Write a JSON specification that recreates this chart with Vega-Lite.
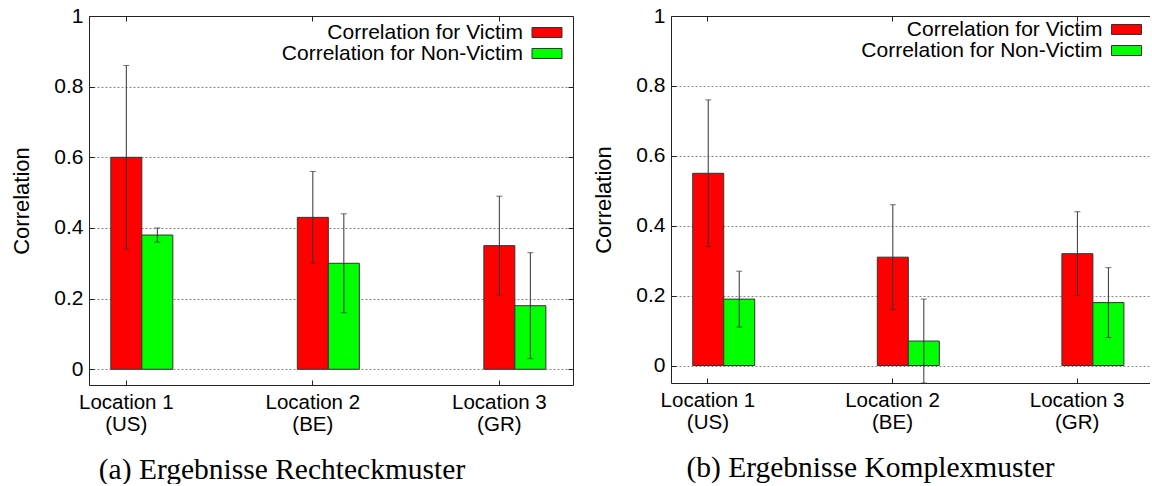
{
  "$schema": "https://vega.github.io/schema/vega-lite/v6.json",
  "background": "white",
  "padding": {"left": 10, "top": 5, "right": 0, "bottom": 0},
  "spacing": 18,
  "resolve": {"scale": {"color": "independent"}, "legend": {"color": "independent"}},
  "config": {
    "font": "Liberation Sans",
    "view": {"stroke": null},
    "axis": {
      "labelFont": "Liberation Sans", "labelFontSize": 20.5, "labelColor": "black",
      "titleFont": "Liberation Sans", "titleFontSize": 22, "titleFontWeight": "normal", "titleColor": "black",
      "domainColor": "#222", "tickColor": "#222", "domainWidth": 1, "tickWidth": 1
    },
    "legend": {
      "orient": "none", "title": null,
      "symbolType": "M-1.58,-0.526H1.58V0.526H-1.58Z", "symbolSize": 361,
      "symbolStrokeColor": "#333", "symbolStrokeWidth": 1, "symbolOpacity": 1,
      "labelFont": "Liberation Sans", "labelFontSize": 21, "labelColor": "black",
      "labelAlign": "right", "labelOffset": -34.5, "labelLimit": 500,
      "rowPadding": -1, "padding": 0
    }
  },
  "datasets": {
    "a": [
      {"loc": "Location 1\n(US)", "series": "Correlation for Victim", "value": 0.60, "low": 0.34, "high": 0.86},
      {"loc": "Location 1\n(US)", "series": "Correlation for Non-Victim", "value": 0.38, "low": 0.36, "high": 0.40},
      {"loc": "Location 2\n(BE)", "series": "Correlation for Victim", "value": 0.43, "low": 0.30, "high": 0.56},
      {"loc": "Location 2\n(BE)", "series": "Correlation for Non-Victim", "value": 0.30, "low": 0.16, "high": 0.44},
      {"loc": "Location 3\n(GR)", "series": "Correlation for Victim", "value": 0.35, "low": 0.21, "high": 0.49},
      {"loc": "Location 3\n(GR)", "series": "Correlation for Non-Victim", "value": 0.18, "low": 0.03, "high": 0.33}
    ],
    "b": [
      {"loc": "Location 1\n(US)", "series": "Correlation for Victim", "value": 0.55, "low": 0.34, "high": 0.76},
      {"loc": "Location 1\n(US)", "series": "Correlation for Non-Victim", "value": 0.19, "low": 0.11, "high": 0.27},
      {"loc": "Location 2\n(BE)", "series": "Correlation for Victim", "value": 0.31, "low": 0.16, "high": 0.46},
      {"loc": "Location 2\n(BE)", "series": "Correlation for Non-Victim", "value": 0.07, "low": -0.05, "high": 0.19},
      {"loc": "Location 3\n(GR)", "series": "Correlation for Victim", "value": 0.32, "low": 0.20, "high": 0.44},
      {"loc": "Location 3\n(GR)", "series": "Correlation for Non-Victim", "value": 0.18, "low": 0.08, "high": 0.28}
    ]
  },
  "hconcat": [
    {
      "width": 484, "height": 369,
      "data": {"name": "a"},
      "title": {"text": "(a) Ergebnisse Rechteckmuster", "orient": "bottom", "anchor": "middle", "frame": "group", "dx": -49, "offset": 21, "font": "Liberation Serif", "fontSize": 29.5, "fontWeight": "normal", "color": "black"},
      "layer": [
        {
          "mark": {"type": "bar", "stroke": "#333", "strokeWidth": 1},
          "encoding": {
            "x": {"field": "loc", "type": "nominal", "sort": null,
              "scale": {"paddingInner": 0.7, "paddingOuter": 0.1475, "align": 0.1695},
              "axis": {"orient": "bottom", "title": null, "labelAngle": 0, "labelExpr": "split(datum.label, '\\n')", "labelLineHeight": 22, "tickSize": -5, "labelPadding": 12}},
            "xOffset": {"field": "series", "type": "nominal", "sort": null,
              "scale": {"domain": ["Correlation for Victim", "Correlation for Non-Victim"], "range": [12.5, 74.5], "paddingInner": 0, "paddingOuter": 0}},
            "y": {"field": "value", "type": "quantitative", "stack": null,
              "scale": {"domain": [-0.0445, 1], "nice": false, "zero": false},
              "axis": {"orient": "left", "values": [0, 0.2, 0.4, 0.6, 0.8, 1], "format": ".1~f", "grid": true, "gridDash": [2, 2], "gridColor": "#888", "tickSize": -5, "labelFontSize": 21, "labelPadding": 11, "title": "Correlation", "titlePadding": 20}},
            "color": {"field": "series", "type": "nominal",
              "scale": {"domain": ["Correlation for Victim", "Correlation for Non-Victim"], "range": ["#ff0000", "#00ff00"]},
              "legend": {"legendX": 447.5, "legendY": 6}}
          }
        },
        {
          "mark": {"type": "rule", "color": "#333", "strokeWidth": 1},
          "encoding": {
            "x": {"field": "loc", "type": "nominal", "sort": null,
              "axis": {"orient": "top", "title": null, "labels": false, "tickSize": -5}},
            "xOffset": {"field": "series", "type": "nominal", "sort": null},
            "y": {"field": "low", "type": "quantitative",
              "axis": {"orient": "right", "title": null, "labels": false, "grid": false, "values": [0, 0.2, 0.4, 0.6, 0.8, 1], "tickSize": -5}},
            "y2": {"field": "high"}
          }
        },
        {
          "mark": {"type": "tick", "orient": "horizontal", "size": 6, "thickness": 1, "color": "#333"},
          "encoding": {
            "x": {"field": "loc", "type": "nominal", "sort": null, "axis": null},
            "xOffset": {"field": "series", "type": "nominal", "sort": null},
            "y": {"field": "low", "type": "quantitative", "axis": null}
          }
        },
        {
          "mark": {"type": "tick", "orient": "horizontal", "size": 6, "thickness": 1, "color": "#333"},
          "encoding": {
            "x": {"field": "loc", "type": "nominal", "sort": null, "axis": null},
            "xOffset": {"field": "series", "type": "nominal", "sort": null},
            "y": {"field": "high", "type": "quantitative", "axis": null}
          }
        }
      ],
      "resolve": {"axis": {"x": "independent", "y": "independent"}}
    },
    {
      "width": 479, "height": 367,
      "data": {"name": "b"},
      "title": {"text": "(b) Ergebnisse Komplexmuster", "orient": "bottom", "anchor": "middle", "frame": "group", "dx": -40, "offset": 21, "font": "Liberation Serif", "fontSize": 29.5, "fontWeight": "normal", "color": "black"},
      "layer": [
        {
          "mark": {"type": "bar", "stroke": "#333", "strokeWidth": 1},
          "encoding": {
            "x": {"field": "loc", "type": "nominal", "sort": null,
              "scale": {"paddingInner": 0.7, "paddingOuter": 0.1475, "align": 0.1695},
              "axis": {"orient": "bottom", "title": null, "labelAngle": 0, "labelExpr": "split(datum.label, '\\n')", "labelLineHeight": 22, "tickSize": -5, "labelPadding": 12}},
            "xOffset": {"field": "series", "type": "nominal", "sort": null,
              "scale": {"domain": ["Correlation for Victim", "Correlation for Non-Victim"], "range": [12.5, 74.5], "paddingInner": 0, "paddingOuter": 0}},
            "y": {"field": "value", "type": "quantitative", "stack": null,
              "scale": {"domain": [-0.05, 1], "nice": false, "zero": false},
              "axis": {"orient": "left", "values": [0, 0.2, 0.4, 0.6, 0.8, 1], "format": ".1~f", "grid": true, "gridDash": [2, 2], "gridColor": "#888", "tickSize": -5, "labelFontSize": 21, "labelPadding": 11, "title": "Correlation", "titlePadding": 20}},
            "color": {"field": "series", "type": "nominal",
              "scale": {"domain": ["Correlation for Victim", "Correlation for Non-Victim"], "range": ["#ff0000", "#00ff00"]},
              "legend": {"legendX": 445, "legendY": 3}}
          }
        },
        {
          "mark": {"type": "rule", "color": "#333", "strokeWidth": 1},
          "encoding": {
            "x": {"field": "loc", "type": "nominal", "sort": null,
              "axis": {"orient": "top", "title": null, "labels": false, "tickSize": -5}},
            "xOffset": {"field": "series", "type": "nominal", "sort": null},
            "y": {"field": "low", "type": "quantitative", "axis": null},
            "y2": {"field": "high"}
          }
        },
        {
          "mark": {"type": "tick", "orient": "horizontal", "size": 6, "thickness": 1, "color": "#333"},
          "encoding": {
            "x": {"field": "loc", "type": "nominal", "sort": null, "axis": null},
            "xOffset": {"field": "series", "type": "nominal", "sort": null},
            "y": {"field": "low", "type": "quantitative", "axis": null}
          }
        },
        {
          "mark": {"type": "tick", "orient": "horizontal", "size": 6, "thickness": 1, "color": "#333"},
          "encoding": {
            "x": {"field": "loc", "type": "nominal", "sort": null, "axis": null},
            "xOffset": {"field": "series", "type": "nominal", "sort": null},
            "y": {"field": "high", "type": "quantitative", "axis": null}
          }
        }
      ],
      "resolve": {"axis": {"x": "independent", "y": "independent"}}
    }
  ]
}
